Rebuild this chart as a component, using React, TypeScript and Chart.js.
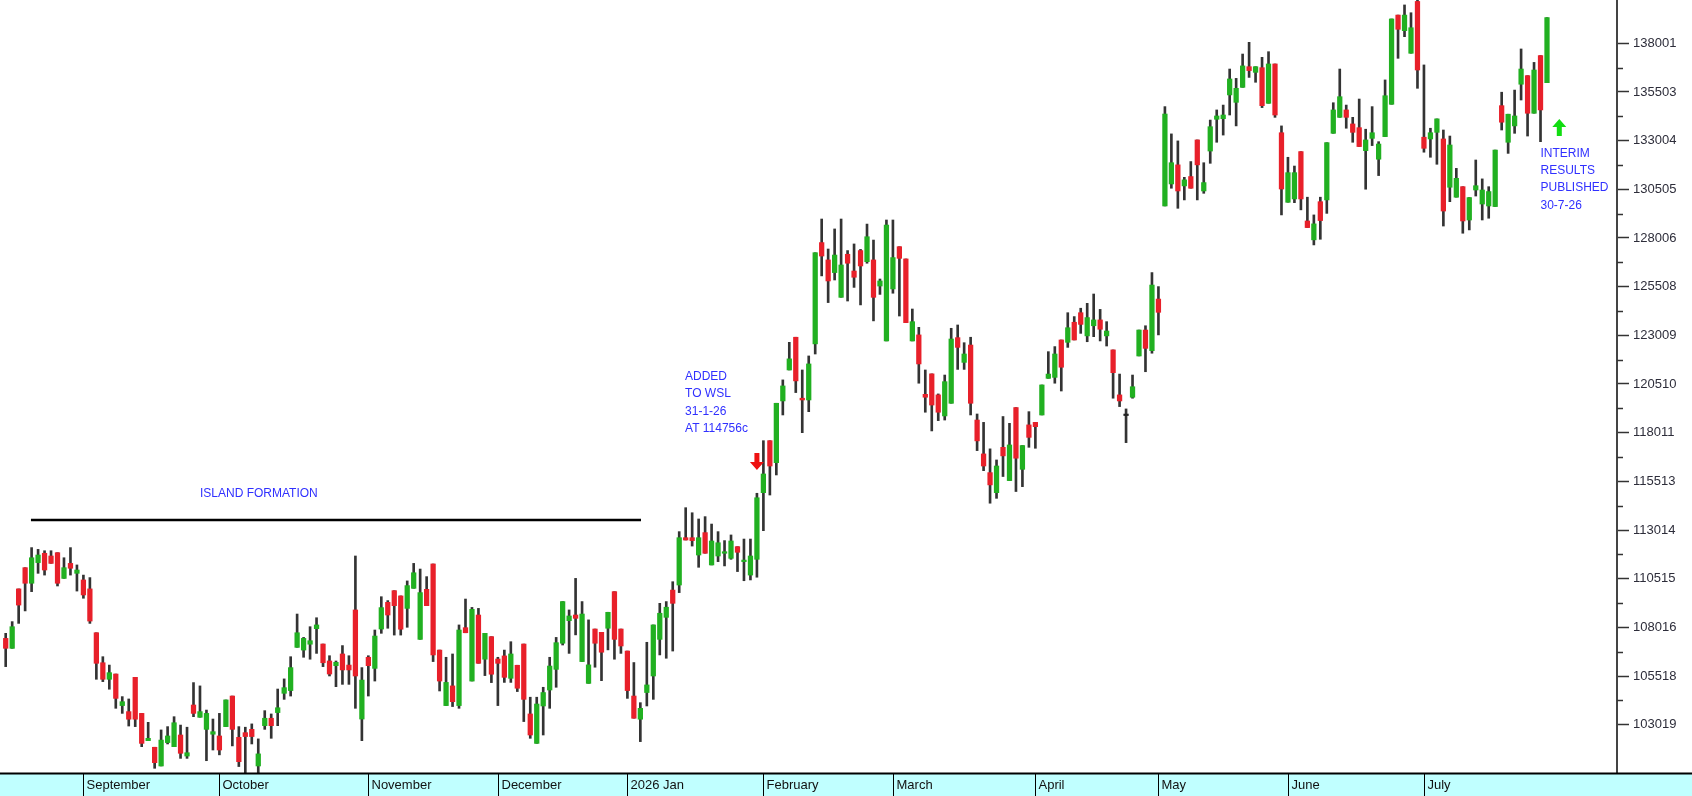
import React, { useEffect, useRef } from "react";
import { Chart, registerables } from "chart.js";

Chart.register(...registerables);

// one entry per trading day, Aug 2025 .. Jul 2026 (values in cents)
const opens = [
  107450, 106940, 109990, 111080, 110280, 111340, 111820, 111680, 111850, 110530,
  111300, 110790, 110450, 109990, 107740, 106200, 105350, 105620, 104000, 103690,
  105450, 103600, 102200, 101860, 100900, 102100, 101890, 102490, 101410, 104030,
  103400, 102780, 102530, 102440, 102920, 104490, 102370, 102610, 102780, 100900,
  102970, 103350, 103640, 104630, 104770, 106990, 106850, 107150, 107950, 107160,
  106290, 106050, 106650, 106080, 108910, 103310, 106480, 105910, 107930, 109300,
  109900, 109630, 108990, 110020, 107400, 109970, 111270, 106850, 104000, 105010,
  104000, 108000, 105260, 108650, 106380, 107540, 106390, 106550, 105400, 106070,
  107160, 103570, 102060, 103980, 104800, 105860, 107200, 108360, 108650, 106260,
  105140, 107930, 107760, 107970, 109850, 107930, 106800, 104490, 103300, 104670,
  105520, 107400, 108530, 109930, 110190, 112620, 112620, 111730, 112880, 111220,
  111680, 111820, 111560, 112160, 111390, 110700, 111510, 114930, 117600, 116470,
  119640, 121230, 122910, 119780, 119690, 122570, 127770, 126880, 126230, 124960,
  127170, 126310, 127360, 126790, 126880, 125540, 122720, 125390, 127560, 126930,
  122720, 123030, 119980, 121030, 119950, 118870, 119520, 122890, 121620, 122510,
  118660, 116920, 115960, 114930, 117260, 115550, 119300, 116130, 118410, 118540,
  118920, 120800, 120850, 122770, 122650, 123680, 124170, 122980, 123500, 123800,
  122980, 122260, 119950, 118950, 119830, 121950, 123280, 122220, 124870, 129650,
  130780, 131760, 130680, 131160, 133040, 130420, 132470, 134100, 134130, 135350,
  134970, 135740, 136800, 136510, 136750, 134920, 136940, 133410, 129840, 130010,
  132440, 128880, 127910, 129870, 129960, 133380, 134200, 134580, 133860, 133670,
  132490, 133120, 132050, 133210, 134870, 139450, 138650, 137490, 140150, 133180,
  133090, 133430, 133090, 130610, 130100, 130640, 128930, 130470, 129750, 129650,
  129620, 134800, 132920, 133760, 135900, 136340, 134410, 137370, 135980,
];
const highs = [
  107710, 108310, 109990, 111080, 112110, 112020, 111950, 111950, 111850, 111590,
  112110, 111220, 110700, 110570, 107740, 106510, 106080, 105620, 104460, 104340,
  105450, 103600, 103140, 101860, 102750, 102920, 103430, 103000, 102890, 105180,
  105010, 103770, 103310, 103600, 104290, 104490, 102920, 102890, 103060, 102290,
  103740, 103570, 104850, 105370, 106510, 108700, 107500, 108050, 108510, 107160,
  106560, 106290, 107080, 106560, 111680, 105950, 106560, 107880, 109590, 109390,
  109900, 109630, 110400, 111300, 111010, 110620, 111270, 106850, 106480, 106650,
  108140, 109470, 109040, 108990, 107710, 107540, 106480, 106850, 107280, 106070,
  107160, 104430, 104430, 104940, 106480, 107500, 109340, 108910, 110530, 109340,
  108400, 107930, 107760, 108790, 109850, 107930, 106800, 106210, 104150, 107250,
  108140, 109250, 109340, 110360, 112930, 114160, 113900, 113580, 113700, 113320,
  112930, 112470, 112760, 112160, 112550, 112550, 114900, 117600, 117600, 119520,
  120720, 122650, 122910, 121230, 121950, 127250, 128980, 127440, 128470, 128980,
  127360, 127700, 127420, 128720, 127900, 125900, 128930, 128930, 127560, 126930,
  124360, 123420, 121230, 121030, 120000, 120970, 123370, 123540, 122630, 122910,
  118970, 118540, 117180, 116610, 118840, 118490, 119300, 117350, 119090, 118540,
  120460, 122170, 122430, 122770, 124170, 123970, 124400, 124650, 125130, 124340,
  123710, 122260, 121020, 119230, 120970, 123280, 123500, 126230, 125510, 134750,
  133350, 132990, 131120, 131930, 133040, 131870, 134060, 134580, 134830, 136680,
  136200, 137450, 138050, 136800, 137280, 137570, 136940, 133760, 132150, 131700,
  132440, 130100, 129190, 130100, 132900, 134950, 136680, 134830, 134200, 135140,
  133590, 134750, 132950, 136120, 139250, 139450, 139970, 139570, 140600, 136890,
  133640, 134120, 133550, 133240, 131580, 130640, 130080, 132010, 131040, 130640,
  132520, 135490, 134360, 135600, 137710, 136340, 137020, 137370, 139320,
];
const lows = [
  106000, 106940, 108220, 108860, 109850, 110790, 110700, 111300, 110140, 110530,
  110700, 109880, 109510, 108220, 105350, 105230, 104840, 103860, 103600, 102950,
  102920, 101890, 102200, 100780, 100900, 102030, 101890, 101290, 101290, 103430,
  103400, 101170, 101720, 101470, 102920, 101930, 100870, 100550, 102030, 100550,
  102780, 102320, 102970, 104320, 104490, 106990, 106480, 106380, 106680, 106000,
  105520, 104970, 105090, 105090, 103860, 102200, 104490, 105260, 107710, 107970,
  107620, 107620, 108020, 110020, 107400, 109130, 106260, 104750, 104000, 103950,
  103860, 107740, 105260, 106170, 105540, 105180, 104000, 105190, 105190, 104720,
  103180, 102320, 102060, 102490, 103860, 104940, 107110, 106680, 107630, 106260,
  105140, 105970, 105280, 106860, 106380, 106680, 104370, 103350, 102150, 103980,
  104320, 106600, 106430, 106800, 109800, 112500, 112190, 111100, 111820, 111220,
  111390, 111170, 111510, 110880, 110410, 110450, 110590, 112980, 114810, 115840,
  118920, 121230, 120070, 118010, 119090, 122050, 126060, 124690, 125850, 124960,
  124770, 125470, 124570, 126710, 123750, 125110, 122720, 125170, 124000, 123660,
  122720, 120550, 119060, 118100, 118630, 118660, 119520, 121260, 121260, 118920,
  117090, 116060, 114390, 114640, 115760, 115550, 114990, 115240, 117260, 117210,
  118920, 120800, 120550, 120150, 122390, 122770, 123110, 122680, 122940, 122720,
  122460, 119780, 119350, 117500, 119780, 121950, 121140, 122090, 123030, 129650,
  130560, 129530, 129960, 130560, 129960, 130300, 131840, 132920, 133290, 134320,
  133760, 135740, 136250, 136000, 134700, 134920, 134200, 129190, 129840, 129820,
  129450, 128540, 127650, 127940, 129270, 133380, 134200, 133640, 132920, 132700,
  130510, 132750, 131210, 133210, 134870, 137230, 138340, 137490, 135690, 132410,
  132150, 131790, 128620, 129870, 130100, 128250, 128420, 130160, 128930, 129020,
  129620, 133550, 132350, 133380, 135090, 133240, 134410, 132950, 135980,
];
const closes = [
  106940, 108050, 109160, 110280, 111590, 111730, 110960, 111300, 110280, 111080,
  111050, 110960, 109680, 108340, 106170, 105350, 105690, 104370, 104200, 103300,
  103300, 102060, 102320, 101070, 102230, 102440, 103120, 101550, 101580, 103600,
  103690, 103600, 102660, 101720, 104290, 102780, 101120, 102410, 102410, 101520,
  103350, 102970, 103890, 104920, 105950, 107740, 107450, 107330, 108140, 106200,
  105620, 106220, 105830, 105830, 105520, 105310, 106050, 107570, 109030, 108650,
  109130, 107920, 110160, 110820, 109800, 109130, 106600, 105260, 105190, 104200,
  107880, 107740, 108940, 106170, 107710, 105610, 106170, 105450, 106650, 104890,
  104320, 102490, 104080, 104670, 106030, 107230, 109340, 108600, 108480, 108700,
  106090, 107200, 106740, 108790, 107400, 107060, 104770, 103350, 103860, 105060,
  108140, 108740, 109050, 109250, 112620, 112500, 112470, 112620, 111820, 112450,
  112360, 111900, 112450, 111870, 111470, 111680, 114670, 115890, 116300, 119520,
  120410, 121800, 120670, 119690, 121540, 127250, 127080, 125800, 127130, 126620,
  126710, 125990, 126570, 128070, 124960, 125800, 128670, 127000, 126960, 123660,
  123710, 121540, 119830, 119430, 119060, 120630, 122820, 122390, 122050, 119520,
  117590, 116300, 115330, 116300, 116820, 117380, 116700, 117350, 117770, 118320,
  120460, 121020, 122050, 121370, 123400, 122770, 123570, 123920, 123800, 123320,
  123230, 121090, 119640, 118890, 120370, 123280, 122340, 125590, 124190, 134370,
  131870, 130420, 130990, 130560, 131760, 130850, 133720, 134270, 134320, 136170,
  135690, 136840, 136600, 136800, 134800, 136940, 134320, 130520, 131360, 131360,
  130010, 128540, 128730, 128900, 132900, 134580, 135260, 134200, 133430, 132700,
  133040, 133410, 132830, 135310, 139250, 138720, 139450, 138800, 136630, 132610,
  133410, 134120, 129390, 132780, 131070, 128880, 130080, 130690, 130470, 130390,
  132520, 133950, 134360, 134270, 136680, 134410, 136630, 134580, 139320,
];

// first trading day (1-based day number) of each month shown on the date strip
const monthNames = [
  "September", "October", "November", "December", "2026 Jan", "February",
  "March", "April", "May", "June", "July",
];
const monthStarts = [13, 34, 57, 77, 97, 118, 138, 160, 179, 199, 220];

const yTickLabels = [
  "103019", "105518", "108016", "110515", "113014", "115513", "118011", "120510",
  "123009", "125508", "128006", "130505", "133004", "135503", "138001",
];

// annotations, anchored in data units (day number, price)
const islandText = "ISLAND FORMATION";
const islandSpan = [4.9, 99.1];
const islandLevel = 113530;
const islandAnchor = [31.0, 114860];
const addedText = ["ADDED", "TO WSL", "31-1-26", "AT 114756c"];
const addedAnchor = [105.9, 120890];
const addedArrow = [117, 116100];
const interimText = ["INTERIM", "RESULTS", "PUBLISHED", "30-7-26"];
const interimAnchor = [238.0, 132350];
const interimArrow = [240.9, 134110];

const FONT = "'Liberation Sans', Arial, sans-serif";
const UP = "#21b021";
const DOWN = "#e8202a";

const candleColor = (i: number) => {
  const d = closes[i] - opens[i];
  if (Math.abs(d) < 70) return "#222";
  return d > 0 ? UP : DOWN;
};

const overlay = {
  id: "overlay",
  beforeDraw(chart: any) {
    const { ctx, width, height } = chart;
    ctx.save();
    ctx.fillStyle = "#ffffff";
    ctx.fillRect(0, 0, width, height);
    ctx.restore();
  },
  afterDraw(chart: any) {
    const { ctx, chartArea, width, height } = chart;
    const xs = chart.scales.x;
    const ys = chart.scales.y;
    ctx.save();

    // minor ticks between labelled ticks
    ctx.strokeStyle = "#333";
    ctx.lineWidth = 1.5;
    for (let i = 0; i < yTickLabels.length - 1; i++) {
      const mid = (Number(yTickLabels[i]) + Number(yTickLabels[i + 1])) / 2;
      const py = Math.round(ys.getPixelForValue(mid)) + 0.5;
      ctx.beginPath();
      ctx.moveTo(chartArea.right, py);
      ctx.lineTo(chartArea.right + 6, py);
      ctx.stroke();
    }

    // date strip
    const top = chartArea.bottom;
    ctx.fillStyle = "#c0ffff";
    ctx.fillRect(0, top, width, height - top);
    ctx.strokeStyle = "#000";
    ctx.lineWidth = 2;
    ctx.beginPath();
    ctx.moveTo(0, top + 0.5);
    ctx.lineTo(width, top + 0.5);
    ctx.stroke();
    ctx.lineWidth = 1;
    ctx.font = `13px ${FONT}`;
    ctx.fillStyle = "#111";
    ctx.textBaseline = "middle";
    ctx.textAlign = "left";
    monthStarts.forEach((d, i) => {
      const px = Math.round(xs.getPixelForValue(d)) + 0.5;
      ctx.beginPath();
      ctx.moveTo(px, top);
      ctx.lineTo(px, height);
      ctx.stroke();
      ctx.fillText(monthNames[i], px + 3, top + (height - top) / 2 + 1);
    });

    // island line + labels
    ctx.beginPath();
    ctx.strokeStyle = "#000";
    ctx.lineWidth = 2.5;
    const ly = ys.getPixelForValue(islandLevel);
    ctx.moveTo(xs.getPixelForValue(islandSpan[0]), ly);
    ctx.lineTo(xs.getPixelForValue(islandSpan[1]), ly);
    ctx.stroke();

    ctx.font = `12px ${FONT}`;
    ctx.fillStyle = "#3030ff";
    ctx.fillText(islandText, xs.getPixelForValue(islandAnchor[0]), ys.getPixelForValue(islandAnchor[1]));
    const block = (lines: string[], at: number[]) => {
      const x0 = xs.getPixelForValue(at[0]);
      const y0 = ys.getPixelForValue(at[1]);
      lines.forEach((t, i) => ctx.fillText(t, x0, y0 + i * 17.3));
    };
    block(addedText, addedAnchor);
    block(interimText, interimAnchor);

    // arrows
    const arrow = (at: number[], dir: number, color: string) => {
      const ax = xs.getPixelForValue(at[0]);
      const ay = ys.getPixelForValue(at[1]);
      ctx.fillStyle = color;
      ctx.beginPath();
      ctx.moveTo(ax, ay);
      ctx.lineTo(ax - 7, ay - dir * 8);
      ctx.lineTo(ax - 2.5, ay - dir * 8);
      ctx.lineTo(ax - 2.5, ay - dir * 17);
      ctx.lineTo(ax + 2.5, ay - dir * 17);
      ctx.lineTo(ax + 2.5, ay - dir * 8);
      ctx.lineTo(ax + 7, ay - dir * 8);
      ctx.closePath();
      ctx.fill();
    };
    arrow(addedArrow, 1, "#ee1111");
    arrow(interimArrow, -1, "#11dd11");

    ctx.restore();
  },
};

const App = () => {
  const canvasRef = useRef<HTMLCanvasElement>(null);

  useEffect(() => {
    document.body.style.margin = "0";
    if (!canvasRef.current) return;
    const ctx = canvasRef.current.getContext("2d");
    if (!ctx) return;

    const days = opens.map((_, i) => i + 1);

    const chart = new Chart(ctx, {
      type: "bar",
      data: {
        datasets: [
          {
            label: "body",
            data: days.map((d, i) => ({ x: d, y: [opens[i], closes[i]] })) as any,
            backgroundColor: days.map((_, i) => candleColor(i)),
            barThickness: 4.6,
            minBarLength: 1.5,
            grouped: false,
            order: 0,
          },
          {
            label: "wick",
            data: days.map((d, i) => ({ x: d, y: [lows[i], highs[i]] })) as any,
            backgroundColor: "#333333",
            barThickness: 2,
            grouped: false,
            order: 1,
          },
        ],
      },
      options: {
        responsive: false,
        maintainAspectRatio: false,
        animation: false,
        layout: { padding: 0 },
        plugins: {
          legend: { display: false },
          tooltip: { enabled: false },
        },
        scales: {
          x: {
            type: "linear",
            min: 0.12,
            max: 249.81,
            offset: false,
            ticks: { display: false },
            grid: { display: false },
            border: { display: false },
            afterFit: (s: any) => {
              s.height = 23;
            },
          },
          y: {
            type: "linear",
            position: "right",
            min: 100539,
            max: 140224,
            afterBuildTicks: (s: any) => {
              s.ticks = yTickLabels.map((l) => ({ value: Number(l) }));
            },
            afterFit: (s: any) => {
              s.width = 75;
              s.paddingTop = 0;
              s.paddingBottom = 0;
            },
            ticks: {
              autoSkip: false,
              padding: 4,
              color: "#2d2d3a",
              font: { family: FONT, size: 13 },
              callback: (_v: any, i: number) => yTickLabels[i],
            },
            grid: {
              drawOnChartArea: false,
              drawTicks: true,
              tickLength: 12,
              tickColor: "#333",
              tickWidth: 1.5,
            },
            border: { display: true, color: "#444", width: 2 },
          },
        },
      },
      plugins: [overlay],
    });

    return () => {
      chart.destroy();
    };
  }, []);

  return (
    <div style={{ width: 1692, height: 796, background: "#fff" }}>
      <canvas
        ref={canvasRef}
        width={1692}
        height={796}
        style={{ display: "block", width: 1692, height: 796 }}
      ></canvas>
    </div>
  );
};

export default App;
